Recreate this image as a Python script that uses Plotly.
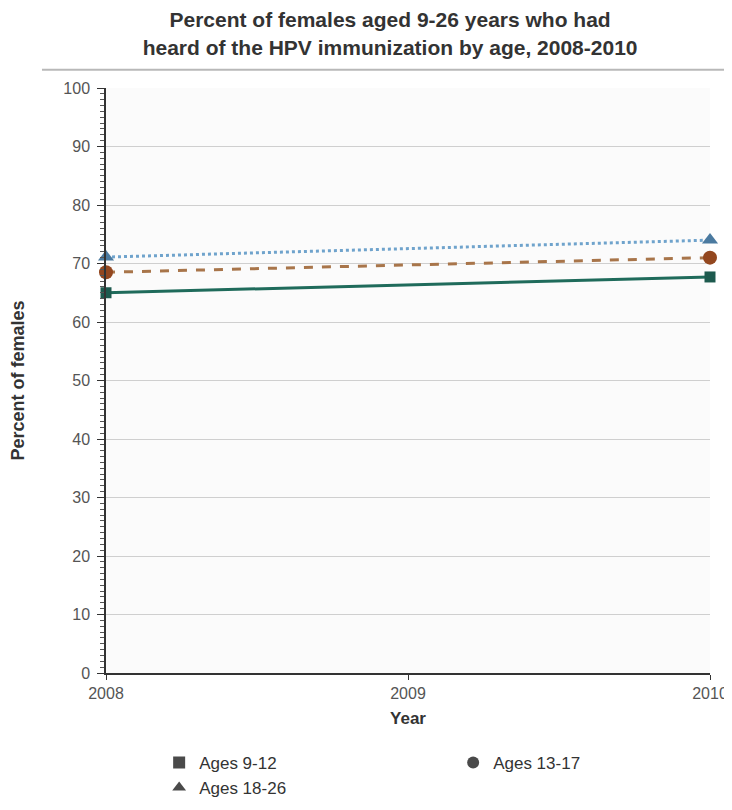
import plotly.graph_objects as go

years = [2008, 2010]
ages_9_12 = [65.0, 67.7]
ages_13_17 = [68.5, 71.0]
ages_18_26 = [71.1, 74.0]

series = [
    ("Ages 9-12", ages_9_12, "#1f6b5b", "#1d5a4e", "square", "solid", 3, 11),
    ("Ages 13-17", ages_13_17, "#a8754a", "#93471f", "circle", "dash", 3, 14),
    ("Ages 18-26", ages_18_26, "#6fa3cc", "#4b7aa0", "triangle-up", "dot", 3, 14),
]

fig = go.Figure()

for name, vals, lc, mc, sym, dash, lw, ms in series:
    fig.add_trace(go.Scatter(x=years, y=vals, mode="lines+markers", showlegend=False,
                             line=dict(color=lc, width=lw, dash=dash),
                             marker=dict(color=mc, symbol=sym, size=ms),
                             cliponaxis=False))
    # legend entry with grey marker like the original
    fig.add_trace(go.Scatter(x=[None], y=[None], mode="markers", name=name,
                             marker=dict(color="#4a4a4a", symbol=sym, size=10)))

fig.add_shape(type="line", xref="paper", yref="paper", x0=-0.106, x1=1.06,
              y0=1.031, y1=1.031, line=dict(color="#b8b8b8", width=2))

fig.update_layout(
    width=732, height=810,
    margin=dict(l=98, r=30, t=80, b=145, autoexpand=False),
    paper_bgcolor="white", plot_bgcolor="#fbfbfb",
    font=dict(family="Liberation Sans, Arial", size=13, color="#444"),
    title=dict(text="<b>Percent of females aged 9-26 years who had<br>heard of the HPV immunization by age, 2008-2010</b>",
               x=0.522, xanchor="center", y=0.976, yanchor="middle", yref="container",
               font=dict(size=21, color="#333")),
    legend=dict(orientation="h", x=0.088, xanchor="left", y=-0.123, yanchor="top",
                entrywidth=249, entrywidthmode="pixels",
                font=dict(size=17, color="#333"), tracegroupgap=0,
                itemsizing="constant"),
)

fig.update_xaxes(range=[2008, 2010], tickvals=[2008, 2009, 2010], ticks="outside",
                 ticklen=5, tickcolor="#333", showline=True, linecolor="#333", linewidth=1.5,
                 showgrid=False, zeroline=False, ticklabelstandoff=0,
                 title=dict(text="<b>Year</b>", font=dict(size=17, color="#333"), standoff=11),
                 tickfont=dict(size=16, color="#555"))
fig.update_yaxes(range=[0, 100], dtick=10, ticks="outside", ticklen=7, tickcolor="#333",
                 showline=True, linecolor="#333", linewidth=1.5,
                 showgrid=True, gridcolor="#cfcfcf", gridwidth=1, zeroline=False,
                 ticklabelstandoff=4,
                 minor=dict(dtick=1, ticks="outside", ticklen=4, tickcolor="#555", showgrid=False),
                 title=dict(text="<b>Percent of females</b>", font=dict(size=18, color="#333"), standoff=45),
                 tickfont=dict(size=16, color="#555"))

fig.write_html("out.html")
